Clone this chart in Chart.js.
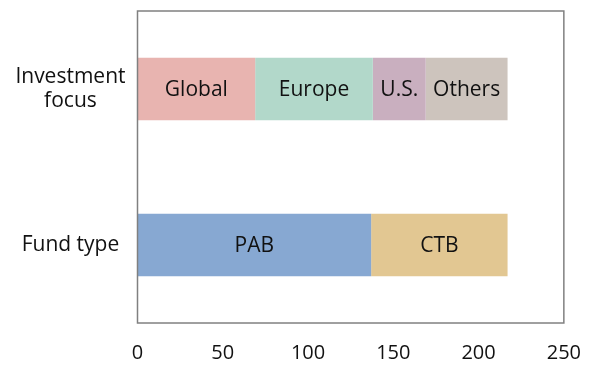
<!DOCTYPE html>
<html>
<head>
<meta charset="utf-8">
<script src="https://cdn.jsdelivr.net/npm/chart.js@4/dist/chart.umd.min.js"></script>
<style>
  html, body { margin: 0; padding: 0; background: #ffffff; }
  #wrap { width: 591px; height: 365px; }
</style>
</head>
<body>
<div id="wrap"><canvas id="chart" width="591" height="365"></canvas></div>
<script>
// Category rows (y axis) and x-axis range
const categories = [['Investment', 'focus'], 'Fund type'];
const xTicks = [0, 50, 100, 150, 200, 250];

// Segment labels, values per row [Investment focus, Fund type], colours
const segmentNames = ['Global', 'Europe', 'U.S.', 'Others', 'PAB', 'CTB'];
const globalVals = [69, null];
const europeVals = [69, null];
const usVals = [31, null];
const othersVals = [48, null];
const pabVals = [null, 137];
const ctbVals = [null, 80];
const segmentColors = ['#e8b4b0', '#b2d8ca', '#c9afbf', '#cdc4bd', '#87a8d2', '#e2c792'];

const seriesValues = [globalVals, europeVals, usVals, othersVals, pabVals, ctbVals];

const FONT = "'Open Sans', 'DejaVu Sans', sans-serif";
const TEXT = '#111111';

// Writes each segment's name in the middle of its bar
const segmentLabels = {
  id: 'segmentLabels',
  afterDatasetsDraw(chart) {
    const ctx = chart.ctx;
    ctx.save();
    ctx.font = '21px ' + FONT;
    ctx.fillStyle = TEXT;
    ctx.textAlign = 'center';
    ctx.textBaseline = 'middle';
    chart.data.datasets.forEach((ds, i) => {
      const meta = chart.getDatasetMeta(i);
      meta.data.forEach((bar, j) => {
        if (ds.data[j] == null) return;
        const p = bar.getProps(['x', 'y', 'base'], true);
        ctx.fillText(ds.label, (p.x + p.base) / 2, p.y + 1);
      });
    });
    ctx.restore();
  }
};

// Grey frame around the plotting area
const plotFrame = {
  id: 'plotFrame',
  afterDatasetsDraw(chart) {
    const a = chart.chartArea;
    const ctx = chart.ctx;
    ctx.save();
    ctx.strokeStyle = '#808080';
    ctx.lineWidth = 1.5;
    ctx.strokeRect(a.left, a.top, a.right - a.left, a.bottom - a.top);
    ctx.restore();
  }
};

new Chart(document.getElementById('chart'), {
  type: 'bar',
  data: {
    labels: categories,
    datasets: segmentNames.map((name, i) => ({
      label: name,
      data: seriesValues[i],
      backgroundColor: segmentColors[i],
      borderWidth: 0,
      barPercentage: 0.4,
      categoryPercentage: 1.0
    }))
  },
  options: {
    indexAxis: 'y',
    responsive: false,
    animation: false,
    layout: { padding: { top: 11, right: 24, left: 0, bottom: 0 } },
    plugins: {
      legend: { display: false },
      tooltip: { enabled: false }
    },
    scales: {
      x: {
        stacked: true,
        min: xTicks[0],
        max: xTicks[xTicks.length - 1],
        afterBuildTicks(scale) {
          scale.ticks = xTicks.map(v => ({ value: v }));
        },
        afterFit(scale) { scale.height = 42; },
        grid: { display: false },
        border: { display: false },
        ticks: {
          color: TEXT,
          padding: 10,
          maxRotation: 0,
          font: { family: FONT, size: 20 }
        }
      },
      y: {
        stacked: true,
        afterFit(scale) {
          scale.width = 137.5;
          scale.paddingTop = 0;
          scale.paddingBottom = 0;
        },
        grid: { display: false },
        border: { display: false },
        ticks: {
          color: TEXT,
          padding: 4,
          crossAlign: 'center',
          font: { family: FONT, size: 21, lineHeight: 1.15 }
        }
      }
    }
  },
  plugins: [segmentLabels, plotFrame]
});
</script>
</body>
</html>
